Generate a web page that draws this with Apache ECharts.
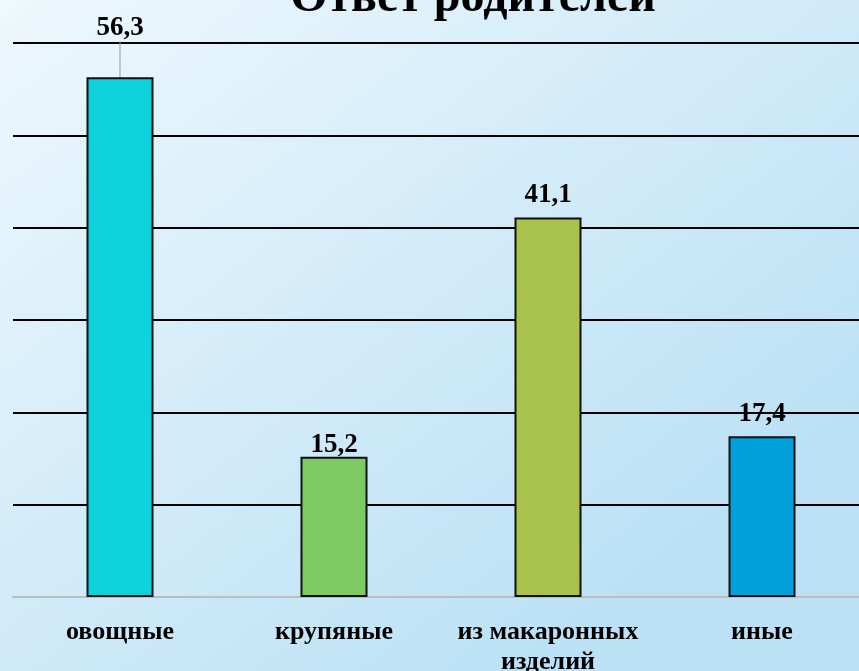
<!doctype html>
<html>
<head>
<meta charset="utf-8">
<title>Ответ родителей</title>
<style>
    html, body { margin: 0; padding: 0; }
    #chart { width: 859px; height: 671px; }
</style>
</head>
<body>
<div id="chart"></div>
<script src="https://cdn.jsdelivr.net/npm/echarts@6/dist/echarts.min.js"></script>
<script>
    var categories = ['овощные', 'крупяные', 'из макаронных\nизделий', 'иные'];
    var values = [56.3, 15.2, 41.1, 17.4];
    var barColors = ['#0CD2DB', '#7ECB63', '#A8C24B', '#00A0DA'];

    var serif = '"Liberation Serif", "DejaVu Serif", serif';

    var chart = echarts.init(document.getElementById('chart'));

    var data = values.map(function (v, i) {
        var item = { value: v, itemStyle: { color: barColors[i] } };
        // only the first label is lifted and has a leader line
        if (i === 0) item.labelLine = { show: true };
        return item;
    });

    var option = {
        backgroundColor: new echarts.graphic.LinearGradient(0, 0, 0.6, 1, [
            { offset: 0, color: '#EEF8FD' },
            { offset: 1, color: '#BCE1F5' }
        ]),
        animation: false,
        title: {
            text: 'Ответ родителей',
            left: 468,
            textAlign: 'center',
            top: -30,
            textStyle: { fontFamily: serif, fontWeight: 'bold', fontSize: 48, color: '#000' }
        },
        grid: { left: 13, right: -10, top: 43, bottom: 74, outerBoundsMode: 'none' },
        xAxis: {
            type: 'category',
            data: categories,
            axisTick: { show: false },
            axisLine: { lineStyle: { color: '#BDBDBD', width: 2 } },
            axisLabel: {
                interval: 0,
                hideOverlap: false,
                margin: 20,
                fontFamily: serif,
                fontWeight: 'bold',
                fontSize: 26,
                lineHeight: 30,
                color: '#000'
            }
        },
        yAxis: {
            type: 'value',
            min: 0,
            max: 60,
            interval: 10,
            axisLabel: { show: false },
            axisLine: { show: false },
            axisTick: { show: false },
            splitLine: { lineStyle: { color: '#000', width: 2 } }
        },
        series: [{
            type: 'bar',
            data: data,
            barWidth: 67,
            itemStyle: { borderColor: '#111', borderWidth: 2 },
            label: {
                show: true,
                position: 'top',
                distance: 9,
                formatter: function (p) { return String(p.value).replace('.', ','); },
                fontFamily: serif,
                fontWeight: 'bold',
                fontSize: 27,
                color: '#000'
            },
            labelLine: { show: false, lineStyle: { color: '#999', width: 1 } },
            labelLayout: function (p) {
                if (p.dataIndex === 0) return { dy: -27 };
                if (p.dataIndex === 1) return { dy: 11 };
                return {};
            }
        }]
    };

    chart.setOption(option);
</script>
</body>
</html>
